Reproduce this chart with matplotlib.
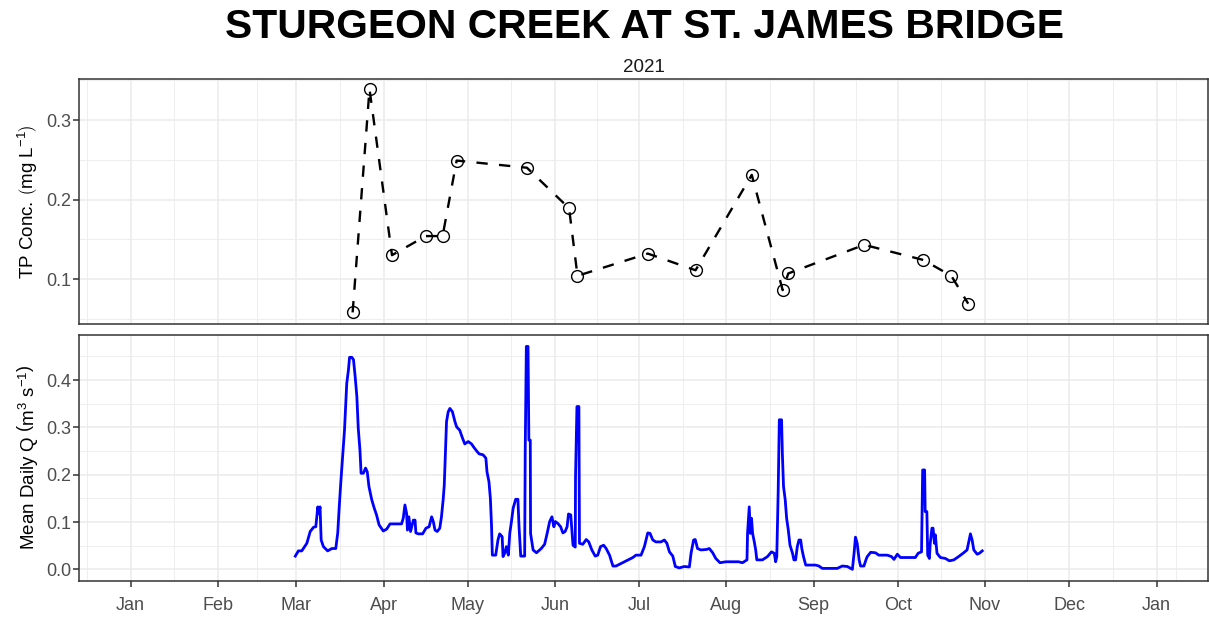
import matplotlib
matplotlib.use("Agg")
import matplotlib.pyplot as plt
import numpy as np
import pandas as pd

plt.rcParams['font.family'] = ['Liberation Sans', 'DejaVu Sans']
plt.rcParams['mathtext.fontset'] = 'custom'
plt.rcParams['mathtext.rm'] = 'Liberation Sans'
plt.rcParams['mathtext.it'] = 'Liberation Sans:italic'

# --- TP grab samples ---
tp_dates = ['2021-03-21', '2021-03-27', '2021-04-04', '2021-04-16', '2021-04-22',
            '2021-04-27', '2021-05-22', '2021-06-06', '2021-06-09', '2021-07-04',
            '2021-07-21', '2021-08-10', '2021-08-21', '2021-08-23', '2021-09-19',
            '2021-10-10', '2021-10-20', '2021-10-26']
tp_conc = [0.058, 0.339, 0.130, 0.154, 0.154, 0.249, 0.240, 0.189, 0.104, 0.132,
           0.111, 0.231, 0.086, 0.107, 0.143, 0.124, 0.104, 0.069]

# --- mean daily flow (days since 2021-01-01) ---
q_day = [58.6, 59.7, 60.9, 62.7, 63.9, 65.1, 65.9, 66.6, 67.0, 67.4, 67.8, 68.6, 70.1,
         71.6, 73.0, 73.7, 74.2, 74.8, 75.5, 76.1, 76.9, 77.5, 77.9, 78.7, 79.3, 79.9,
         80.5, 81.0, 81.6, 82.0, 82.8, 83.6, 84.2, 84.8, 85.8, 86.7, 87.5, 88.4, 89.9,
         91.1, 92.3, 96.4, 97.0, 97.6, 98.2, 98.5, 99.0, 99.6, 100.6, 101.2, 101.5,
         102.3, 103.9, 105.1, 106.2, 107.1, 107.7, 108.3, 109.1, 110.0, 110.6, 111.2,
         111.6, 112.0, 112.4, 113.0, 113.6, 114.5, 115.4, 116.0, 117.1, 118.1, 118.9,
         120.1, 121.3, 122.1, 123.0, 124.0, 125.4, 126.4, 126.8, 127.5, 128.0, 128.4,
         128.7, 129.9, 130.7, 131.3, 132.2, 132.5, 133.1, 133.7, 134.4, 134.9, 135.5,
         136.1, 137.0, 137.8, 138.2, 138.8, 140.2, 140.4, 140.8, 141.4, 141.7, 142.2,
         142.3, 143.2, 144.4, 146.1, 147.3, 148.2, 149.1, 149.9, 150.6, 151.1, 152.0,
         153.0, 153.8, 154.6, 155.3, 155.8, 156.6, 157.0, 157.4, 158.2, 158.3, 158.8,
         159.5, 159.7, 160.9, 162.1, 163.0, 164.1, 165.3, 166.2, 167.2, 168.3, 169.2,
         170.4, 171.6, 172.7, 175.7, 178.7, 179.8, 181.6, 182.8, 184.0, 184.8, 185.8,
         186.9, 188.7, 189.9, 190.8, 191.7, 192.9, 193.8, 195.2, 197.0, 198.8, 199.4,
         200.3, 200.9, 201.7, 202.9, 204.9, 205.9, 207.1, 208.2, 209.7, 211.8, 216.3,
         217.7, 219.3, 219.5, 220.1, 220.5, 220.9, 221.3, 221.9, 222.4, 222.8, 224.8,
         226.6, 228.0, 229.0, 229.5, 229.9, 230.4, 230.8, 231.6, 231.9, 232.3, 232.9,
         233.4, 234.0, 234.6, 235.5, 236.0, 236.6, 237.2, 237.8, 238.4, 238.8, 239.4,
         240.2, 242.0, 243.7, 244.9, 246.1, 251.4, 253.2, 255.0, 256.8, 257.4, 257.9,
         258.5, 259.2, 259.7, 260.9, 261.8, 262.1, 263.3, 265.0, 266.2, 269.2, 270.7,
         271.6, 272.8, 273.9, 279.2, 280.2, 281.4, 281.6, 281.8, 282.5, 282.7, 283.3,
         283.6, 284.2, 284.5, 285.1, 285.5, 286.0, 286.3, 286.9, 288.1, 289.9, 291.3,
         292.9, 294.6, 296.4, 297.6, 298.2, 298.8, 299.4, 300.0, 301.2, 302.0, 303.0]
q_val = [0.028, 0.039, 0.039, 0.055, 0.080, 0.089, 0.090, 0.132, 0.118, 0.132, 0.062,
         0.048, 0.039, 0.044, 0.044, 0.077, 0.129, 0.185, 0.245, 0.294, 0.393, 0.421,
         0.448, 0.448, 0.443, 0.407, 0.365, 0.298, 0.252, 0.203, 0.203, 0.214, 0.206,
         0.175, 0.147, 0.129, 0.115, 0.094, 0.081, 0.085, 0.096, 0.096, 0.108, 0.136,
         0.118, 0.083, 0.111, 0.080, 0.104, 0.104, 0.077, 0.075, 0.075, 0.087, 0.090,
         0.111, 0.101, 0.083, 0.080, 0.087, 0.111, 0.147, 0.178, 0.245, 0.312, 0.333,
         0.340, 0.333, 0.312, 0.301, 0.294, 0.277, 0.265, 0.270, 0.265, 0.258, 0.251,
         0.244, 0.242, 0.235, 0.206, 0.185, 0.150, 0.094, 0.030, 0.030, 0.062, 0.075,
         0.069, 0.027, 0.034, 0.048, 0.030, 0.076, 0.101, 0.129, 0.148, 0.148, 0.090,
         0.028, 0.028, 0.249, 0.471, 0.471, 0.273, 0.273, 0.076, 0.041, 0.035, 0.044,
         0.053, 0.076, 0.101, 0.111, 0.090, 0.101, 0.097, 0.090, 0.077, 0.080, 0.090,
         0.117, 0.115, 0.083, 0.051, 0.047, 0.196, 0.344, 0.344, 0.055, 0.053, 0.063,
         0.058, 0.041, 0.028, 0.030, 0.048, 0.051, 0.044, 0.030, 0.007, 0.007, 0.016,
         0.025, 0.030, 0.030, 0.048, 0.077, 0.076, 0.062, 0.058, 0.058, 0.062, 0.055,
         0.037, 0.028, 0.006, 0.003, 0.006, 0.005, 0.034, 0.062, 0.063, 0.044, 0.041,
         0.042, 0.044, 0.035, 0.023, 0.014, 0.016, 0.016, 0.014, 0.020, 0.076, 0.132,
         0.076, 0.108, 0.076, 0.058, 0.041, 0.020, 0.020, 0.027, 0.037, 0.034, 0.016,
         0.027, 0.164, 0.316, 0.316, 0.242, 0.175, 0.147, 0.108, 0.083, 0.051, 0.034,
         0.020, 0.020, 0.048, 0.062, 0.062, 0.044, 0.027, 0.009, 0.009, 0.009, 0.007,
         0.002, 0.002, 0.007, 0.006, 0.000, 0.034, 0.068, 0.055, 0.020, 0.007, 0.007,
         0.023, 0.027, 0.036, 0.035, 0.030, 0.030, 0.027, 0.021, 0.032, 0.025, 0.025,
         0.034, 0.037, 0.122, 0.210, 0.210, 0.122, 0.122, 0.030, 0.023, 0.055, 0.087,
         0.087, 0.055, 0.073, 0.034, 0.025, 0.023, 0.018, 0.020, 0.027, 0.035, 0.041,
         0.058, 0.075, 0.062, 0.041, 0.032, 0.034, 0.039]

month_starts = pd.date_range('2021-01-01', '2022-01-01', freq='MS')
month_labels = ['Jan', 'Feb', 'Mar', 'Apr', 'May', 'Jun', 'Jul', 'Aug', 'Sep', 'Oct',
                'Nov', 'Dec', 'Jan']

tp_t = pd.to_datetime(tp_dates)
q_t = pd.Timestamp('2021-01-01') + pd.to_timedelta(q_day, unit='D')

# ggplot-like limits: one year plus 5% on each side
x0 = pd.Timestamp('2021-01-01')
x1 = pd.Timestamp('2022-01-01')
pad = (x1 - x0) * 0.05
xlim = (x0 - pad, x1 + pad)

# minor breaks halfway between months
edges = [pd.Timestamp('2020-12-01')] + list(month_starts)
minor_x = [a + (b - a) / 2 for a, b in zip(edges[:-1], edges[1:])]
minor_x.append(pd.Timestamp('2022-01-08'))

W, H = 1209, 618
fig = plt.figure(figsize=(W / 100, H / 100), dpi=100)
left = 79.3 / W
width = 1207.8 / W - left
ax1 = fig.add_axes([left, 1 - 324 / H, width, (324 - 79) / H])
ax2 = fig.add_axes([left, 1 - 580.7 / H, width, (580.7 - 334.7) / H])

grid_col = '#EBEBEB'
border = '#333333'
for ax in (ax1, ax2):
    ax.set_xlim(*xlim)
    ax.set_xticks(month_starts)
    ax.set_xticks(minor_x, minor=True)
    ax.grid(True, which='major', color=grid_col, linewidth=1.1, zorder=0)
    ax.grid(True, which='minor', color=grid_col, linewidth=0.6, zorder=0)
    ax.set_axisbelow(True)
    for s in ax.spines.values():
        s.set_color(border)
        s.set_linewidth(1.1)
    ax.tick_params(which='major', direction='out', length=4, width=1.1, color=border,
                   labelsize=13, labelcolor='#4D4D4D')
    ax.tick_params(axis='y', which='major', pad=2)
    ax.tick_params(which='minor', length=0)

# top panel: TP
ax1.plot(tp_t, tp_conc, color='black', linewidth=1.7, linestyle=(0, (4.8, 4.8)),
         marker='o', markersize=8.5, markerfacecolor='none', markeredgecolor='black',
         markeredgewidth=1.0, zorder=3)
ax1.set_ylim(0.0434, 0.3516)
ax1.set_yticks([0.1, 0.2, 0.3])
ax1.set_yticklabels(['0.1', '0.2', '0.3'])
ax1.set_yticks([0.05, 0.15, 0.25, 0.35], minor=True)
ax1.tick_params(axis='x', which='both', length=0, labelbottom=False)
ax1.set_ylabel(r'TP Conc. $\left(\mathrm{mg\ L^{-1}}\right)$', fontsize=13.5, labelpad=4)

# bottom panel: flow
ax2.plot(q_t, q_val, color='#0000FF', linewidth=2.0, zorder=3)
ax2.set_ylim(-0.024, 0.4958)
ax2.set_yticks([0.0, 0.1, 0.2, 0.3, 0.4])
ax2.set_yticklabels(['0.0', '0.1', '0.2', '0.3', '0.4'])
ax2.set_yticks([0.05, 0.15, 0.25, 0.35, 0.45], minor=True)
ax2.set_xticklabels(month_labels)
ax2.tick_params(axis='x', which='major', pad=8)
ax2.set_ylabel(r'Mean Daily Q $\left(\mathrm{m^{3}\ s^{-1}}\right)$', fontsize=13.5, labelpad=4)

fig.text(644.5 / W, 1 - 27 / H, 'STURGEON CREEK AT ST. JAMES BRIDGE', ha='center',
         va='center', fontsize=29.3, fontweight='bold')
fig.text(643.5 / W, 1 - 68 / H, '2021', ha='center', va='center', fontsize=13.5,
         color='#1A1A1A')

fig.align_ylabels([ax1, ax2])
fig.savefig('out.png', dpi=100, facecolor='white')
